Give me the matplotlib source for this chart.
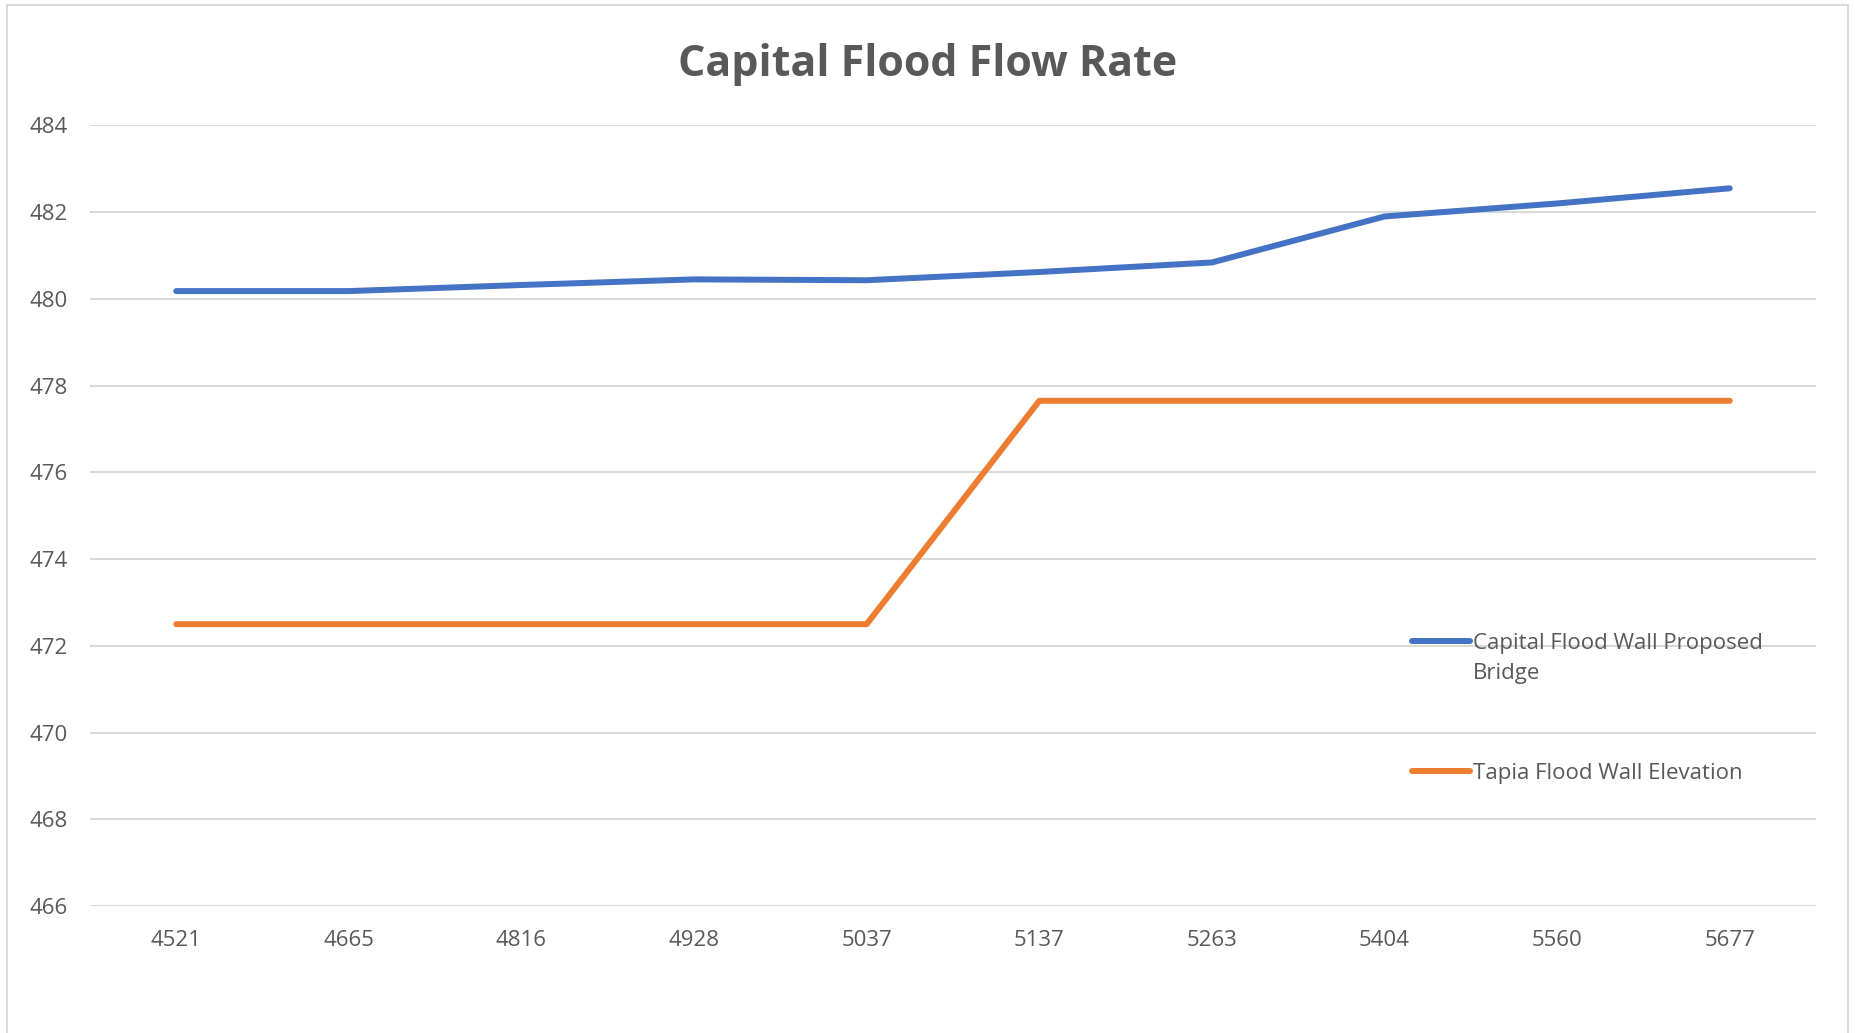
import matplotlib.pyplot as plt
from matplotlib.patches import Rectangle
from matplotlib.legend_handler import HandlerLine2D

stations = ["4521", "4665", "4816", "4928", "5037", "5137", "5263", "5404", "5560", "5677"]
capital = [480.18, 480.18, 480.32, 480.45, 480.43, 480.62, 480.84, 481.90, 482.20, 482.55]
tapia = [472.5, 472.5, 472.5, 472.5, 472.5, 477.65, 477.65, 477.65, 477.65, 477.65]

grey = "#595959"
plt.rcParams['font.family'] = ['Open Sans', 'DejaVu Sans']


class TopLineHandler(HandlerLine2D):
    # put the legend line next to the first line of a wrapped label
    def __init__(self, shift, **kw):
        super().__init__(**kw)
        self.shift = shift

    def create_artists(self, legend, orig_handle, xdescent, ydescent, width, height, fontsize, trans):
        arts = super().create_artists(legend, orig_handle, xdescent, ydescent, width, height, fontsize, trans)
        for a in arts:
            a.set_ydata([y + self.shift for y in a.get_ydata()])
        return arts


fig = plt.figure(figsize=(18.55, 10.33), dpi=100)
ax = fig.add_axes([0.0485, 0.1229, 0.9305, 0.7557])

x = range(len(stations))
l1, = ax.plot(x, capital, color="#4472C4", lw=4.3, solid_capstyle="round",
              label="Capital Flood Wall Proposed\nBridge")
l2, = ax.plot(x, tapia, color="#ED7D31", lw=4.3, solid_capstyle="round",
              label="Tapia Flood Wall Elevation")

ax.set_xlim(-0.5, len(stations) - 0.5)
ax.set_ylim(466, 484)
ax.set_yticks(range(466, 485, 2))
ax.set_xticks(list(x))
ax.set_xticklabels(stations)
ax.grid(axis="y", color="#D9D9D9", lw=1.5)
ax.set_axisbelow(True)
for s in ax.spines.values():
    s.set_visible(False)
ax.tick_params(length=0, labelsize=16, labelcolor=grey)
ax.tick_params(axis="x", pad=17)
ax.tick_params(axis="y", pad=16)

fig.text(0.5, 0.938, "Capital Flood Flow Rate", ha="center", va="center",
         fontsize=31, fontweight="bold", color=grey)

leg = ax.legend(loc="upper left", bbox_to_anchor=(0.766, 0.35), frameon=False,
                fontsize=16, labelspacing=3.55, handlelength=2.6, handletextpad=0.15,
                borderpad=0, borderaxespad=0,
                handler_map={l1: TopLineHandler(12.5)})
for t in leg.get_texts():
    t.set_color(grey)
    t.set_linespacing(1.55)

# outer chart border
fig.patches.append(Rectangle((0.004, -0.01), 0.992, 1.005, transform=fig.transFigure,
                             fill=False, edgecolor="#D9D9D9", lw=1.5))

fig.savefig("out.png", dpi=100)
